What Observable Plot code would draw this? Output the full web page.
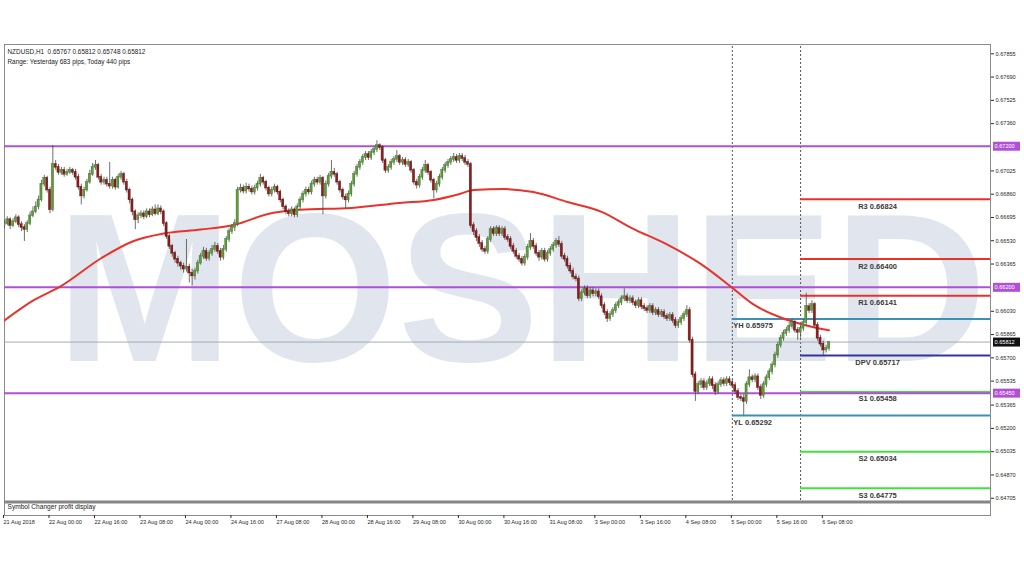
<!DOCTYPE html>
<html><head><meta charset="utf-8">
<script src="https://cdn.jsdelivr.net/npm/d3@7"></script>
<script src="https://cdn.jsdelivr.net/npm/@observablehq/plot@0.6"></script>
<style>
html,body{margin:0;padding:0;background:#fff;}
#chart{width:1024px;height:576px;overflow:hidden;}
</style></head><body><div id="chart"></div>
<script>
// ---------- data ----------
const symbol = "NZDUSD,H1";
const subWindowTitle = "Symbol Changer profit display";
const watermark = "MOSHED";

const xTickIndex = [0,16,32,48,64,80,96,112,128,144,160,176,192,208,224,240,256,272,288];
const xTickLabels = ["21 Aug 2018","22 Aug 00:00","22 Aug 16:00","23 Aug 08:00","24 Aug 00:00","24 Aug 16:00","27 Aug 08:00","28 Aug 00:00","28 Aug 16:00","29 Aug 08:00","30 Aug 00:00","30 Aug 16:00","31 Aug 08:00","3 Sep 00:00","3 Sep 16:00","4 Sep 08:00","5 Sep 00:00","5 Sep 16:00","6 Sep 08:00"];
const yTickValues = [0.67855,0.67690,0.67525,0.67360,0.67025,0.66860,0.66695,0.66530,0.66365,0.66030,0.65865,0.65700,0.65535,0.65365,0.65200,0.65035,0.64870,0.64705];

const firstOpen = 0.66637;
const closes = [
0.66651,0.66679,0.66637,0.66665,0.66693,0.66644,0.66623,0.66609,0.66651,0.66707,
0.66735,0.66770,0.66819,0.66931,0.66973,0.66889,0.66749,0.67071,0.67050,0.67015,
0.67029,0.67001,0.67015,0.67029,0.67015,0.66980,0.66910,0.66847,0.66889,0.66945,
0.67001,0.67050,0.67064,0.66980,0.66945,0.66959,0.66931,0.66917,0.66959,0.66910,
0.66980,0.67001,0.66945,0.66889,0.66819,0.66735,0.66679,0.66707,0.66721,0.66700,
0.66735,0.66714,0.66749,0.66721,0.66756,0.66735,0.66651,0.66560,0.66490,0.66441,
0.66399,0.66371,0.66350,0.66329,0.66343,0.66301,0.66280,0.66315,0.66371,0.66420,
0.66455,0.66406,0.66441,0.66469,0.66490,0.66455,0.66413,0.66469,0.66539,0.66595,
0.66623,0.66651,0.66889,0.66903,0.66882,0.66910,0.66896,0.66875,0.66903,0.66931,
0.66973,0.66945,0.66903,0.66861,0.66889,0.66910,0.66875,0.66819,0.66770,0.66735,
0.66721,0.66749,0.66714,0.66770,0.66819,0.66861,0.66889,0.66875,0.66931,0.66959,
0.66945,0.66973,0.66847,0.66931,0.66987,0.67015,0.67001,0.66945,0.66889,0.66840,
0.66819,0.66861,0.66931,0.67001,0.67050,0.67085,0.67120,0.67141,0.67120,0.67155,
0.67176,0.67204,0.67190,0.67099,0.67029,0.67050,0.67085,0.67106,0.67127,0.67085,
0.67099,0.67071,0.67085,0.67029,0.66945,0.66924,0.66980,0.67029,0.67064,0.67015,
0.66959,0.66889,0.66931,0.66980,0.67029,0.67064,0.67085,0.67106,0.67120,0.67099,
0.67127,0.67113,0.67085,0.67071,0.66637,0.66595,0.66553,0.66511,0.66469,0.66455,
0.66539,0.66609,0.66581,0.66616,0.66581,0.66609,0.66553,0.66539,0.66490,0.66455,
0.66420,0.66399,0.66371,0.66413,0.66483,0.66525,0.66490,0.66441,0.66413,0.66455,
0.66399,0.66441,0.66469,0.66497,0.66525,0.66504,0.66420,0.66399,0.66350,0.66315,
0.66273,0.66259,0.66119,0.66161,0.66189,0.66140,0.66175,0.66154,0.66168,0.66133,
0.66070,0.66021,0.65979,0.66007,0.66035,0.66070,0.66091,0.66119,0.66133,0.66105,
0.66119,0.66091,0.66070,0.66105,0.66063,0.66049,0.66035,0.66063,0.66021,0.66035,
0.66007,0.66021,0.65993,0.65979,0.66000,0.65965,0.65930,0.65951,0.65979,0.66007,
0.66035,0.65825,0.65580,0.65461,0.65510,0.65531,0.65489,0.65517,0.65545,0.65503,
0.65461,0.65510,0.65538,0.65517,0.65545,0.65524,0.65503,0.65461,0.65419,0.65412,
0.65391,0.65510,0.65559,0.65545,0.65566,0.65489,0.65433,0.65510,0.65559,0.65601,
0.65650,0.65720,0.65790,0.65839,0.65874,0.65895,0.65923,0.65951,0.65895,0.65881,
0.65909,0.65951,0.66063,0.66035,0.66077,0.65930,0.65839,0.65797,0.65755,0.65767,
0.65812];
const highs = [
0.66672,0.66700,0.66693,0.66686,0.66714,0.66707,0.66665,0.66644,0.66672,0.66735,
0.66770,0.66805,0.66847,0.66959,0.66994,0.66987,0.66910,0.67205,0.67099,0.67071,
0.67050,0.67050,0.67036,0.67050,0.67043,0.67036,0.67001,0.66931,0.66910,0.66966,
0.67029,0.67078,0.67099,0.67078,0.67001,0.66980,0.66980,0.67085,0.66980,0.66973,
0.67001,0.67022,0.67015,0.66966,0.66903,0.66833,0.66749,0.66728,0.66742,0.66742,
0.66756,0.66756,0.66770,0.66784,0.66784,0.66777,0.66749,0.66665,0.66574,0.66504,
0.66455,0.66420,0.66385,0.66371,0.66539,0.66364,0.66329,0.66336,0.66392,0.66441,
0.66483,0.66476,0.66462,0.66497,0.66518,0.66511,0.66476,0.66497,0.66560,0.66616,
0.66644,0.66679,0.66910,0.66931,0.66924,0.66938,0.66931,0.66917,0.66924,0.66952,
0.67001,0.66987,0.66959,0.66917,0.66910,0.66931,0.66924,0.66889,0.66833,0.66784,
0.66756,0.66770,0.66763,0.66791,0.66840,0.66882,0.66910,0.66910,0.66952,0.66980,
0.66980,0.66994,0.66987,0.66952,0.67008,0.67099,0.67043,0.67015,0.66959,0.66903,
0.66861,0.66882,0.66952,0.67022,0.67071,0.67106,0.67141,0.67162,0.67162,0.67176,
0.67197,0.67239,0.67218,0.67204,0.67113,0.67071,0.67106,0.67127,0.67169,0.67141,
0.67120,0.67120,0.67106,0.67099,0.67043,0.66966,0.67001,0.67050,0.67099,0.67078,
0.67029,0.66973,0.66952,0.67001,0.67050,0.67085,0.67106,0.67127,0.67148,0.67141,
0.67148,0.67148,0.67134,0.67106,0.67085,0.66658,0.66616,0.66574,0.66532,0.66490,
0.66560,0.66630,0.66630,0.66637,0.66637,0.66630,0.66630,0.66574,0.66560,0.66511,
0.66476,0.66441,0.66420,0.66434,0.66504,0.66581,0.66546,0.66511,0.66462,0.66476,
0.66476,0.66462,0.66490,0.66518,0.66546,0.66560,0.66525,0.66441,0.66420,0.66371,
0.66336,0.66294,0.66280,0.66182,0.66210,0.66210,0.66196,0.66196,0.66189,0.66189,
0.66154,0.66091,0.66042,0.66028,0.66056,0.66091,0.66112,0.66140,0.66189,0.66154,
0.66140,0.66140,0.66112,0.66126,0.66126,0.66084,0.66070,0.66084,0.66084,0.66056,
0.66056,0.66042,0.66042,0.66014,0.66021,0.66021,0.65986,0.65972,0.66000,0.66028,
0.66070,0.66056,0.65846,0.65601,0.65531,0.65552,0.65552,0.65538,0.65566,0.65566,
0.65524,0.65531,0.65559,0.65559,0.65566,0.65566,0.65545,0.65524,0.65482,0.65440,
0.65440,0.65531,0.65615,0.65580,0.65587,0.65587,0.65510,0.65531,0.65580,0.65622,
0.65671,0.65741,0.65811,0.65860,0.65895,0.65916,0.65951,0.65975,0.65965,0.65916,
0.65930,0.65972,0.66158,0.66084,0.66105,0.66091,0.65951,0.65860,0.65818,0.65790,
0.65812];
const lows = [
0.66616,0.66637,0.66609,0.66623,0.66651,0.66623,0.66595,0.66525,0.66588,0.66637,
0.66693,0.66721,0.66749,0.66805,0.66910,0.66868,0.66721,0.66735,0.67029,0.66994,
0.66994,0.66980,0.66987,0.67001,0.66994,0.66959,0.66889,0.66784,0.66826,0.66875,
0.66931,0.66987,0.67029,0.66959,0.66924,0.66924,0.66910,0.66896,0.66896,0.66889,
0.66896,0.66959,0.66924,0.66868,0.66791,0.66707,0.66609,0.66651,0.66686,0.66679,
0.66686,0.66693,0.66700,0.66707,0.66707,0.66714,0.66630,0.66539,0.66469,0.66413,
0.66371,0.66343,0.66322,0.66301,0.66308,0.66231,0.66210,0.66252,0.66294,0.66357,
0.66399,0.66385,0.66385,0.66420,0.66448,0.66434,0.66385,0.66392,0.66448,0.66518,
0.66574,0.66595,0.66630,0.66868,0.66861,0.66861,0.66875,0.66854,0.66854,0.66882,
0.66910,0.66924,0.66882,0.66840,0.66840,0.66868,0.66854,0.66798,0.66749,0.66714,
0.66700,0.66700,0.66693,0.66693,0.66749,0.66798,0.66840,0.66854,0.66854,0.66910,
0.66924,0.66924,0.66714,0.66826,0.66910,0.66966,0.66980,0.66924,0.66868,0.66819,
0.66756,0.66798,0.66840,0.66910,0.66980,0.67029,0.67064,0.67099,0.67099,0.67099,
0.67134,0.67155,0.67169,0.67078,0.67008,0.67008,0.67029,0.67064,0.67085,0.67064,
0.67064,0.67050,0.67050,0.67008,0.66924,0.66896,0.66903,0.66959,0.67008,0.66994,
0.66938,0.66826,0.66868,0.66910,0.66959,0.67008,0.67043,0.67064,0.67085,0.67078,
0.67078,0.67092,0.67064,0.67050,0.66616,0.66567,0.66525,0.66483,0.66448,0.66434,
0.66434,0.66518,0.66560,0.66560,0.66560,0.66560,0.66532,0.66518,0.66469,0.66434,
0.66399,0.66378,0.66350,0.66350,0.66392,0.66462,0.66469,0.66420,0.66385,0.66392,
0.66378,0.66378,0.66420,0.66448,0.66476,0.66483,0.66399,0.66378,0.66329,0.66294,
0.66252,0.66238,0.66098,0.66098,0.66140,0.66119,0.66119,0.66133,0.66133,0.66112,
0.66049,0.66000,0.65951,0.65958,0.65986,0.66014,0.66049,0.66070,0.66098,0.66084,
0.66084,0.66070,0.66049,0.66049,0.66042,0.66028,0.66014,0.66014,0.66000,0.66000,
0.65986,0.65986,0.65972,0.65958,0.65958,0.65944,0.65909,0.65909,0.65930,0.65958,
0.65986,0.65804,0.65559,0.65391,0.65440,0.65482,0.65468,0.65468,0.65496,0.65475,
0.65433,0.65440,0.65489,0.65496,0.65496,0.65503,0.65482,0.65440,0.65398,0.65391,
0.65292,0.65370,0.65489,0.65524,0.65524,0.65468,0.65405,0.65412,0.65489,0.65538,
0.65580,0.65629,0.65699,0.65769,0.65818,0.65853,0.65874,0.65902,0.65874,0.65825,
0.65839,0.65888,0.65930,0.66014,0.66014,0.65909,0.65818,0.65776,0.65718,0.65734,
0.65748];

const maIndex  = [0,10,20,34,45,56,69,81,93,104,122,139,151,160,165,176,186,198,210,221,233,245,256,263,273,282,290];
const maValues = [0.65965,0.66105,0.66210,0.66406,0.66525,0.66581,0.66609,0.66644,0.66721,0.66749,0.66763,0.66798,0.66819,0.66861,0.66889,0.66896,0.66875,0.66805,0.66735,0.66616,0.66504,0.66364,0.66196,0.66084,0.65986,0.65930,0.65895];

const keyLevels = [0.67200, 0.66200, 0.65450];
const pivotNames  = ["R3","R2","R1","DPV","S1","S2","S3"];
const pivotValues = [0.66824,0.66400,0.66141,0.65717,0.65458,0.65034,0.64775];
const prevDayNames  = ["YH","YL"];
const prevDayValues = [0.65975,0.65292];
const dayStartIndex = [256, 280];   // 5 Sep 00:00, 6 Sep 00:00

// ---------- derived tables ----------
const candles = closes.map((close, i) => ({
  t: i, open: i === 0 ? firstOpen : closes[i - 1], close, high: highs[i], low: lows[i]
}));
const ma = maIndex.map((t, i) => ({t, value: maValues[i]}));
const pivots = pivotNames.map((name, i) => ({name, value: pivotValues[i]}));
const prevDay = prevDayNames.map((name, i) => ({name, value: prevDayValues[i]}));
const last = candles[candles.length - 1];
const fmt = d3.format(".5f");
const header1 = `${symbol}  ${fmt(last.open)} ${fmt(last.high)} ${fmt(last.low)} ${fmt(last.close)}`;
const today = candles.filter(d => d.t >= dayStartIndex[1]);
const todayRange = Math.round((d3.max(today, d => d.high) - d3.min(today, d => d.low)) * 1e5);
const yRange = Math.round((prevDayValues[0] - prevDayValues[1]) * 1e5);
const header2 = `Range: Yesterday ${yRange} pips, Today ${todayRange} pips`;
const boxes = keyLevels.map(v => ({value: v, color: "#b14fd8"})).concat([{value: last.close, color: "#111"}]);

const xMax = 346.8;
const yDom = [0.64689, 0.67921];
const pivotColor = n => n[0] === "R" ? "#e8302c" : n === "DPV" ? "#33349e" : "#3fe03f";
const font = "'Liberation Sans', Arial, sans-serif";

const chart = Plot.plot({
  width: 1024, height: 576,
  marginTop: 44, marginBottom: 61, marginLeft: 4, marginRight: 34,
  style: {fontFamily: font, background: "#fff", color: "#2a2a2a"},
  x: {type: "linear", domain: [0, xMax], label: null},
  y: {domain: yDom, range: [500, 44], label: null},
  marks: [
    Plot.text([watermark], {frameAnchor: "middle", text: d => d, fontSize: 212, fontWeight: 700,
      fill: "#e1e5ee", dx: 24, dy: 13, ariaLabel: "watermark"}),
    Plot.frame({stroke: "#8c8c8c"}),
    Plot.ruleY([yDom[0]], {stroke: "#858585", strokeWidth: 3, dy: 1.5}),
    Plot.ruleX(dayStartIndex, {y1: yDom[0], y2: yDom[1], stroke: "#555", strokeWidth: 1, strokeDasharray: "2,2"}),
    Plot.ruleY([last.close], {stroke: "#a3abb0", strokeWidth: 1}),
    Plot.ruleY(prevDay, {y: "value", x1: dayStartIndex[0], x2: xMax, stroke: "#3c8fb8", strokeWidth: 2}),
    Plot.ruleY(pivots, {y: "value", x1: dayStartIndex[1], x2: xMax, stroke: d => pivotColor(d.name), strokeWidth: 2}),
    Plot.ruleY(keyLevels, {stroke: "#b14fd8", strokeWidth: 2}),
    Plot.line(ma, {x: "t", y: "value", stroke: "#e8332c", strokeWidth: 2, curve: "monotone-x", clip: true}),
    Plot.ruleX(candles, {x: "t", y1: "low", y2: "high", stroke: "#4a4a4a", strokeWidth: 0.8, clip: true}),
    Plot.rect(candles, {x1: d => d.t - 0.38, x2: d => d.t + 0.38, y1: "open", y2: "close",
      insetTop: -0.4, insetBottom: -0.4,
      fill: d => d.close >= d.open ? "#5f9c3b" : "#8d1e1e",
      stroke: d => d.close >= d.open ? "#3f6e28" : "#5e1414", strokeWidth: 0.4, clip: true}),
    Plot.text(pivots, {x: dayStartIndex[1], y: "value", text: d => `${d.name} ${fmt(d.value)}`,
      dx: 77, dy: 7, fontSize: 7.5, fontWeight: "bold", fill: "#3a3a3a"}),
    Plot.text(prevDay, {x: dayStartIndex[0], y: "value", text: d => `${d.name} ${fmt(d.value)}`,
      textAnchor: "start", dx: 1, dy: 7, fontSize: 7.5, fontWeight: "bold", fill: "#3a3a3a"}),
    Plot.text([header1], {frameAnchor: "top-left", text: d => d, dx: 3, dy: 5, fontSize: 6.4, fill: "#222"}),
    Plot.text([header2], {frameAnchor: "top-left", text: d => d, dx: 3, dy: 15, fontSize: 6.4, fill: "#222"}),
    Plot.text([subWindowTitle], {frameAnchor: "bottom-left", text: d => d, dx: 3, dy: -7, fontSize: 6.6, fill: "#222"}),
    Plot.axisY(yTickValues, {anchor: "right", tickSize: 3, tickPadding: 2, tickFormat: fmt, fontSize: 5.6, label: null}),
    Plot.ruleY(boxes, {y: "value", x1: xMax, x2: xMax, insetLeft: 3, insetRight: -30, stroke: d => d.color, strokeWidth: 9}),
    Plot.text(boxes, {x: xMax, y: "value", text: d => fmt(d.value), textAnchor: "start", dx: 4, fill: "#fff", fontSize: 5.6}),
    Plot.axisX(xTickIndex, {anchor: "bottom", tickSize: 3, tickPadding: 1.5, textAnchor: "start", dx: -1, label: null,
      tickFormat: d => xTickLabels[xTickIndex.indexOf(d)], fontSize: 5.6})
  ]
});
d3.select(chart).select('g[aria-label="watermark"] text')
  .attr("textLength", 858).attr("lengthAdjust", "spacingAndGlyphs");
document.getElementById("chart").appendChild(chart);
</script>
</body></html>
